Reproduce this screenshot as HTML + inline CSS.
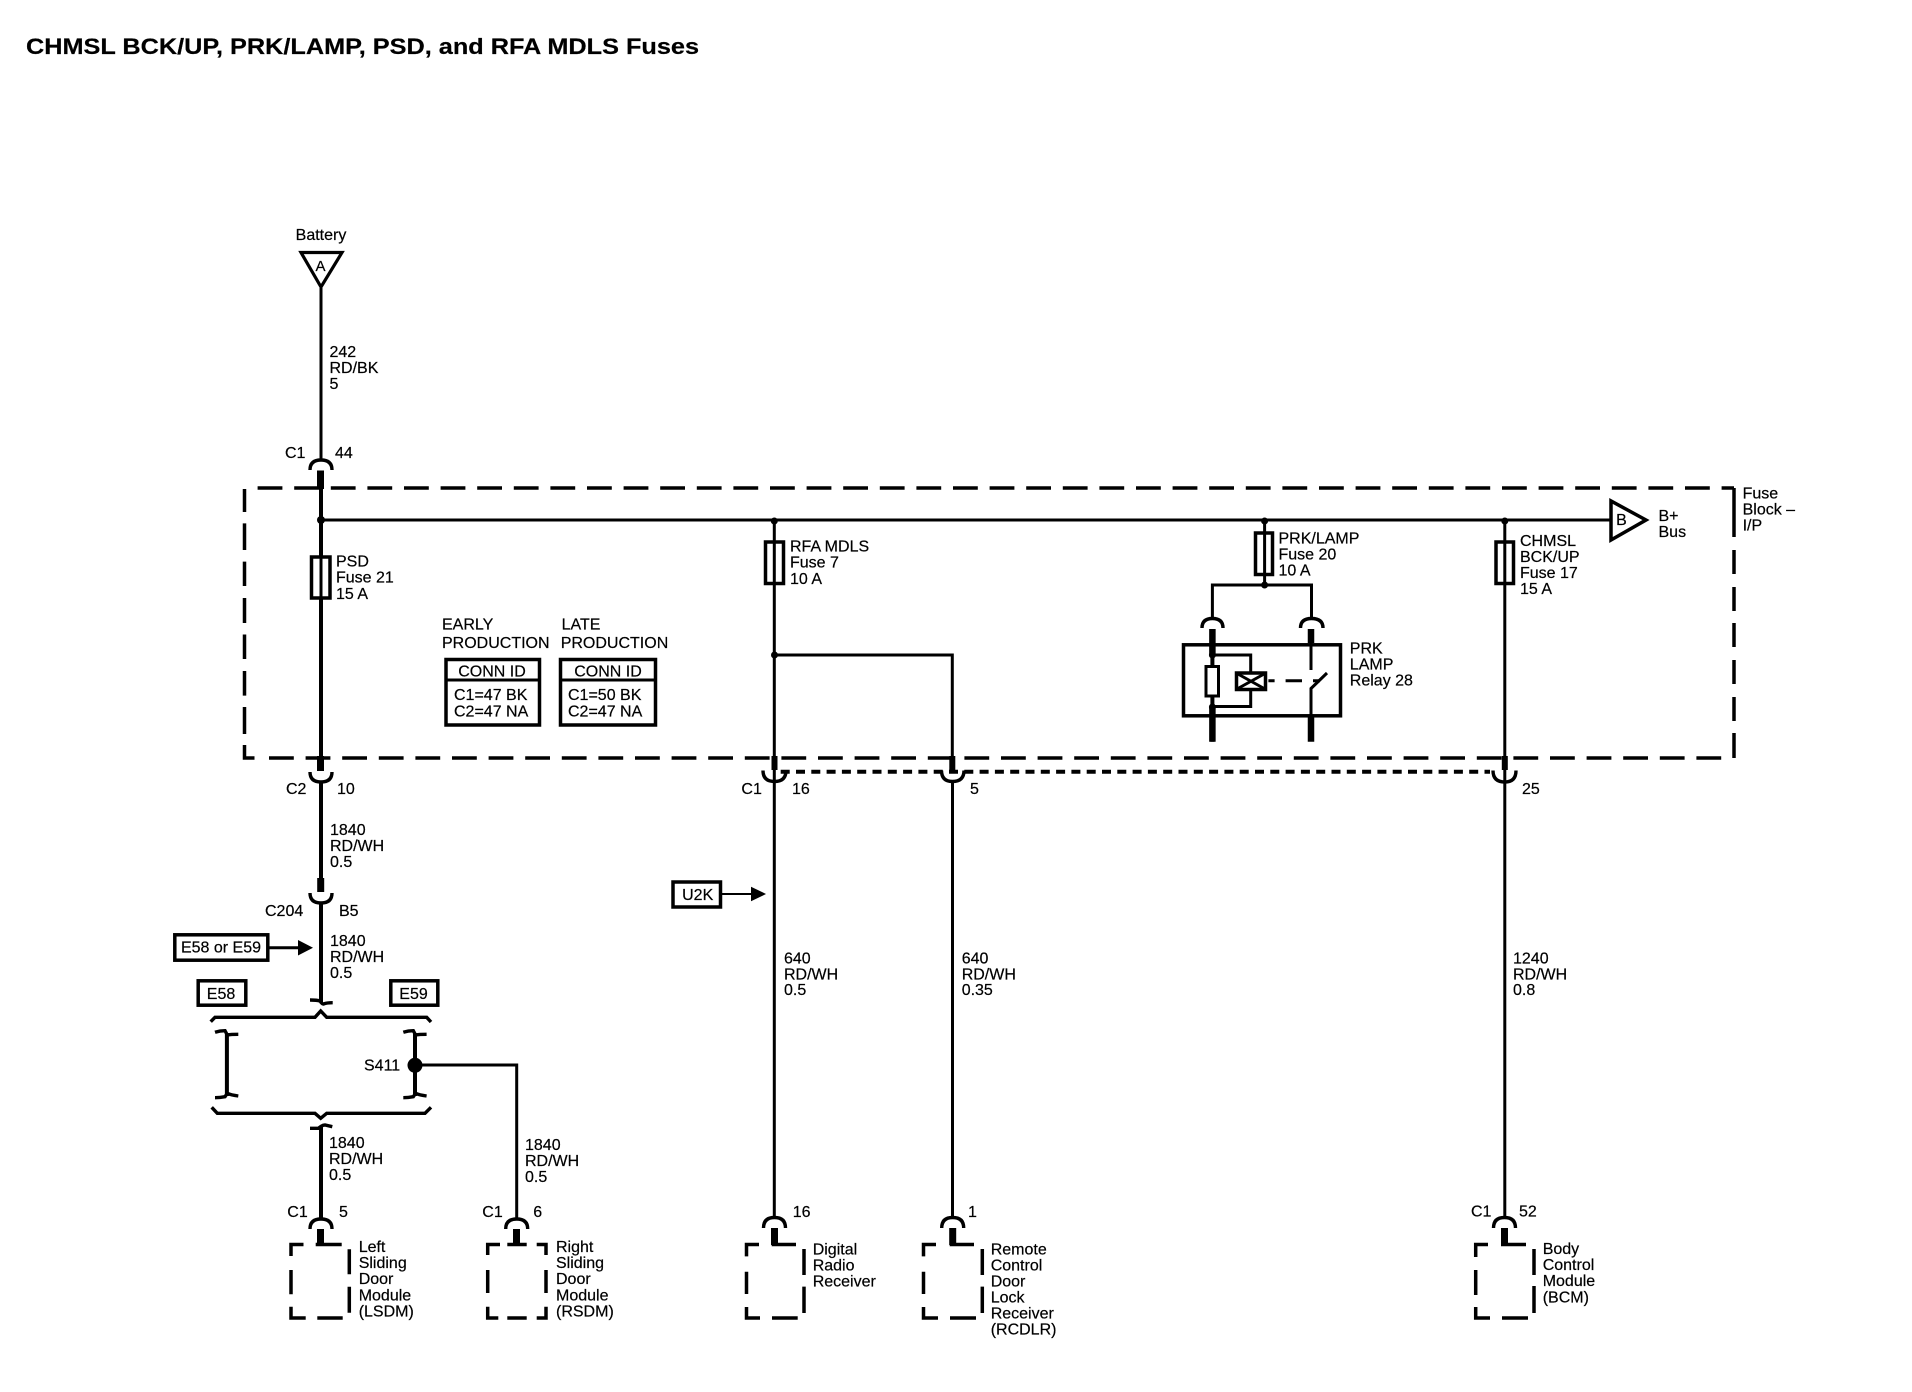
<!DOCTYPE html>
<html><head><meta charset="utf-8"><style>
html,body{margin:0;padding:0;background:#fff}
svg{display:block}
text{font-family:"Liberation Sans",sans-serif;font-size:16px;fill:#000;stroke:#000;stroke-width:.2}
.w{fill:none;stroke:#000;stroke-width:3}
.t{fill:none;stroke:#000;stroke-width:4}
.k{fill:none;stroke:#000;stroke-width:7}
.s{fill:none;stroke:#000;stroke-width:6}
.d{fill:none;stroke:#000;stroke-width:3.5}
.c{fill:none;stroke:#000;stroke-width:3.4}
</style></head><body>
<svg width="1912" height="1392" viewBox="0 0 1912 1392" xmlns="http://www.w3.org/2000/svg">
<rect width="1912" height="1392" fill="#fff"/>
<text x="26" y="54" style="font-size:22px;font-weight:bold" textLength="673" lengthAdjust="spacingAndGlyphs">CHMSL BCK/UP, PRK/LAMP, PSD, and RFA MDLS Fuses</text>

<!-- dashed fuse block -->
<path class="d" d="M257.6 488H1734" stroke-dasharray="24.8 11.8"/>
<path class="d" d="M244.5 489V512M244.5 523.4V550M244.5 561.6V586M244.5 598V623M244.5 634.5V659M244.5 671V695.6M244.5 707V734M244.5 745V758H254.5"/>
<path class="d" d="M269 758H1722" stroke-dasharray="24.8 11.8"/>
<path class="d" d="M1734 488V537M1734 550V574M1734 587V611M1734 623V647M1734 660V684M1734 697V721M1734 733V758"/>
<path d="M780.7 771.8H1490" fill="none" stroke="#000" stroke-width="4" stroke-dasharray="9 6.3"/>

<!-- battery -->
<text x="321" y="240" text-anchor="middle">Battery</text>
<path d="M301 252.5H342L321 287Z" fill="#fff" stroke="#000" stroke-width="3.2"/>
<text x="320.5" y="271" text-anchor="middle" style="font-size:15px">A</text>
<path class="w" d="M321 288V460"/>
<text x="329.5" y="357">242</text><text x="329.5" y="373">RD/BK</text><text x="329.5" y="389">5</text>
<text x="285" y="458">C1</text><text x="335" y="458">44</text>
<path class="c" d="M310 470Q310 460 321 460Q332 460 332 470"/>
<path class="k" d="M320.5 470.5V489"/>
<path class="t" d="M321 488V757"/>
<path class="k" d="M320.5 756V771"/>
<path class="c" d="M310 772Q310 782 321 782Q332 782 332 772"/>
<text x="286" y="794">C2</text><text x="337" y="794">10</text>
<path class="t" d="M321 781V880"/>
<text x="330" y="835">1840</text><text x="330" y="851">RD/WH</text><text x="330" y="867">0.5</text>
<path class="k" d="M320.7 878V892"/>
<path class="c" d="M310 893Q310 903 321 903Q332 903 332 893"/>
<text x="265" y="916">C204</text><text x="339" y="916">B5</text>
<path class="t" d="M321 902V1002"/>
<text x="330" y="946">1840</text><text x="330" y="962">RD/WH</text><text x="330" y="978">0.5</text>

<!-- option boxes -->
<rect x="174.8" y="934.8" width="93" height="25.4" fill="#fff" stroke="#000" stroke-width="3.5"/>
<text x="181" y="952.5" textLength="80">E58 or E59</text>
<path class="w" d="M269 947.7H299"/>
<path d="M298 940V955.5L313 947.7Z" fill="#000"/>
<rect x="198.2" y="980.8" width="47.6" height="24.4" fill="#fff" stroke="#000" stroke-width="3.5"/>
<text x="221" y="999" text-anchor="middle">E58</text>
<rect x="390.8" y="980.8" width="47" height="24.4" fill="#fff" stroke="#000" stroke-width="3.5"/>
<text x="413.5" y="999" text-anchor="middle">E59</text>

<!-- braces -->
<path class="c" d="M310 1000Q317 1000 320 1001Q322 1004 323.5 1004Q327 1002.7 332.7 1002.7"/>
<path class="c" d="M210.7 1021.7L215 1017.3H315L320.7 1011L326.7 1017.3H426.7L431 1022"/>
<path class="t" d="M226.9 1033V1096"/>
<path class="c" d="M215 1032.3Q220 1030.7 225 1030.7L227.3 1035Q231 1034.3 238.3 1034.3M215 1097.7Q220 1097.7 225 1096.7L227.3 1093.3Q231 1095 238.3 1096"/>
<path class="t" d="M415 1033V1096"/>
<path class="c" d="M403.3 1032.3Q408.3 1030.7 413.3 1030.7L415.6 1035Q419.3 1034.3 426.6 1034.3M403.3 1097.7Q408.3 1097.7 413.3 1096.7L415.6 1093.3Q419.3 1095 426.6 1096"/>
<circle cx="415" cy="1065.3" r="7.5" fill="#000"/>
<text x="364" y="1070.5">S411</text>
<path class="w" d="M415 1065H516.7V1219"/>
<path class="c" d="M211.7 1107.3L217.3 1113.3H315L320.7 1118.3L326.7 1113.3H425L431 1107.3"/>
<path class="c" d="M310 1128.3H318.3Q320 1127 321.7 1126Q323 1125 325 1125L332.3 1126.7"/>
<path class="t" d="M321 1126V1220"/>
<text x="329" y="1148">1840</text><text x="329" y="1164">RD/WH</text><text x="329" y="1180">0.5</text>
<text x="525" y="1150">1840</text><text x="525" y="1166">RD/WH</text><text x="525" y="1182">0.5</text>

<!-- LSDM -->
<text x="287.3" y="1217">C1</text><text x="339" y="1217">5</text>
<path class="c" d="M310 1229Q310 1219 321 1219Q332 1219 332 1229"/>
<path class="k" d="M320.5 1229V1245"/>
<path class="d" d="M303.5 1244.5H291V1256M291 1270V1294.3M291 1306.7V1318H305.7M317.3 1318H342.7M315.7 1244.5H341.7M349.3 1249.3V1274.3M349.3 1286.7V1312.7"/>
<text x="358.7" y="1252">Left</text><text x="358.7" y="1268">Sliding</text><text x="358.7" y="1284">Door</text><text x="358.7" y="1300.5">Module</text><text x="358.7" y="1316.5">(LSDM)</text>

<!-- RSDM -->
<text x="482.3" y="1217">C1</text><text x="533.3" y="1217">6</text>
<path class="c" d="M505.7 1229Q505.7 1219 516.7 1219Q527.7 1219 527.7 1229"/>
<path class="k" d="M516.5 1229V1245"/>
<path class="d" d="M500 1244.5H487.7V1255M487.7 1270V1293M487.7 1306.7V1318H498.3M507.3 1318H526.7M507.3 1244.5H526.7M536.7 1244.5H546V1255M546 1270V1293M546 1306.7V1318H536.7"/>
<text x="556" y="1252">Right</text><text x="556" y="1268">Sliding</text><text x="556" y="1284">Door</text><text x="556" y="1300.5">Module</text><text x="556" y="1316.5">(RSDM)</text>

<!-- bus -->
<path class="w" d="M321 520H1612"/>
<circle cx="321" cy="520" r="4" fill="#000"/>
<path d="M1611 501V540L1646 520Z" fill="#fff" stroke="#000" stroke-width="3.5"/>
<text x="1621.5" y="525" text-anchor="middle">B</text>
<text x="1658.5" y="521">B+</text><text x="1658.5" y="537">Bus</text>
<text x="1742.6" y="498.5">Fuse</text><text x="1742.6" y="514.5">Block –</text><text x="1742.6" y="530.5">I/P</text>

<!-- PSD fuse -->
<rect x="311.5" y="557" width="18.5" height="41" fill="#fff" stroke="#000" stroke-width="3.5"/>
<path class="w" d="M321 556V599"/>
<text x="336" y="566.5">PSD</text><text x="336" y="582.7">Fuse 21</text><text x="336" y="599">15 A</text>

<!-- conn tables -->
<text x="442" y="629.5">EARLY</text><text x="442" y="648">PRODUCTION</text>
<text x="561.6" y="629.5">LATE</text><text x="560.7" y="648">PRODUCTION</text>
<rect x="446" y="659.5" width="93.5" height="65.5" fill="#fff" stroke="#000" stroke-width="3.5"/>
<path class="w" d="M446 680H539.5"/>
<text x="492" y="676.7" text-anchor="middle">CONN ID</text>
<text x="454" y="700">C1=47 BK</text><text x="454" y="716.7">C2=47 NA</text>
<rect x="560.5" y="659.5" width="95" height="65.5" fill="#fff" stroke="#000" stroke-width="3.5"/>
<path class="w" d="M560.5 680H655.5"/>
<text x="608" y="676.7" text-anchor="middle">CONN ID</text>
<text x="568" y="700">C1=50 BK</text><text x="568" y="716.7">C2=47 NA</text>

<!-- RFA -->
<circle cx="774.3" cy="521" r="3.5" fill="#000"/>
<rect x="765.5" y="542" width="18" height="41.5" fill="#fff" stroke="#000" stroke-width="3.5"/>
<path class="w" d="M774.3 520V1217"/>
<text x="790" y="551.7">RFA MDLS</text><text x="790" y="567.7">Fuse 7</text><text x="790" y="584">10 A</text>
<circle cx="774.5" cy="655" r="3.5" fill="#000"/>
<path class="w" d="M774.5 655H952.3V757"/>
<path class="s" d="M774.5 756V770M952.3 756V770"/>
<path class="c" d="M763 770.5Q763 781.5 774.5 781.5Q786 781.5 786 770.5M941.5 770.5Q941.5 781.5 952.5 781.5Q964 781.5 964 770.5"/>
<text x="741.4" y="794">C1</text><text x="792" y="794">16</text><text x="970" y="794">5</text>
<path class="w" d="M952.5 781V1217"/>
<text x="784" y="963.5">640</text><text x="784" y="979.5">RD/WH</text><text x="784" y="995">0.5</text>
<text x="961.7" y="963.5">640</text><text x="961.7" y="979.5">RD/WH</text><text x="961.7" y="995">0.35</text>

<!-- U2K -->
<rect x="673" y="882" width="47.5" height="25" fill="#fff" stroke="#000" stroke-width="3.5"/>
<text x="697.7" y="900" text-anchor="middle">U2K</text>
<path d="M722 894H752" stroke="#000" stroke-width="2" fill="none"/>
<path d="M751 886.7V901.3L766 894Z" fill="#000"/>

<!-- Digital radio -->
<text x="792.7" y="1217">16</text>
<path class="c" d="M763.5 1228Q763.5 1217.5 774.5 1217.5Q785.5 1217.5 785.5 1228"/>
<path class="k" d="M774.5 1228V1245"/>
<path class="d" d="M759 1244.5H746.5V1256.4M746.5 1271.7V1294M746.5 1307V1318H760M772 1318H797.7M771.7 1244.5H796M804 1249V1275M804 1286.6V1313"/>
<text x="812.7" y="1254.5">Digital</text><text x="812.7" y="1270.5">Radio</text><text x="812.7" y="1286.5">Receiver</text>

<!-- RCDLR -->
<text x="968" y="1217">1</text>
<path class="c" d="M941.7 1228Q941.7 1217.5 952.7 1217.5Q963.7 1217.5 963.7 1228"/>
<path class="k" d="M952.7 1228V1245"/>
<path class="d" d="M936 1244.5H923.5V1256.4M923.5 1271.7V1294M923.5 1307V1318H938M950 1318H976M949.7 1244.5H974M982.3 1249V1275M982.3 1286.6V1313"/>
<text x="990.7" y="1254.5">Remote</text><text x="990.7" y="1270.5">Control</text><text x="990.7" y="1286.5">Door</text><text x="990.7" y="1302.5">Lock</text><text x="990.7" y="1318.5">Receiver</text><text x="990.7" y="1334.5">(RCDLR)</text>

<!-- PRK LAMP -->
<circle cx="1264.6" cy="521" r="3.5" fill="#000"/>
<rect x="1255.5" y="533" width="17" height="41.5" fill="#fff" stroke="#000" stroke-width="3.5"/>
<path class="w" d="M1264.6 520V585"/>
<text x="1278.5" y="543.3">PRK/LAMP</text><text x="1278.5" y="559.3">Fuse 20</text><text x="1278.5" y="575.3">10 A</text>
<circle cx="1264.6" cy="585" r="3.5" fill="#000"/>
<path class="w" d="M1212.4 618V585H1311.5V618"/>
<path class="c" d="M1202 628Q1202 618.5 1212.4 618.5Q1223 618.5 1223 628M1300.5 628Q1300.5 618.5 1311.5 618.5Q1323 618.5 1323 628"/>
<rect x="1183.5" y="644.8" width="157" height="71" fill="none" stroke="#000" stroke-width="3.5"/>
<path d="M1212.4 629V741.7" stroke="#000" stroke-width="4" fill="none"/>
<path d="M1212.4 629V655M1212.4 707V741.7M1311 629V643M1311 717V741.7" stroke="#000" stroke-width="6.5" fill="none"/>
<path class="w" d="M1311 643V670M1311 688V717M1310.5 689L1327 673"/>
<circle cx="1212.4" cy="655" r="3.5" fill="#000"/>
<circle cx="1212.4" cy="707" r="3.5" fill="#000"/>
<rect x="1206" y="666.5" width="12.5" height="29.5" fill="#fff" stroke="#000" stroke-width="3"/>
<path class="w" d="M1212.4 655H1250.7V672M1250.7 690V706.5H1212.4"/>
<rect x="1236.5" y="673" width="29" height="16.5" fill="#fff" stroke="#000" stroke-width="3.5"/>
<path class="w" d="M1237 673.5L1265 689M1265 673.5L1237 689"/>
<path class="w" d="M1268.4 680.7H1274.6M1285.6 680.7H1302M1313 680.7H1320"/>
<text x="1349.8" y="653.5">PRK</text><text x="1349.8" y="669.5">LAMP</text><text x="1349.8" y="685.5">Relay 28</text>

<!-- CHMSL -->
<circle cx="1504.8" cy="521" r="3.5" fill="#000"/>
<rect x="1496" y="542" width="17.5" height="41.5" fill="#fff" stroke="#000" stroke-width="3.5"/>
<path class="w" d="M1504.8 520V1217"/>
<text x="1520" y="546">CHMSL</text><text x="1520" y="562">BCK/UP</text><text x="1520" y="578">Fuse 17</text><text x="1520" y="594">15 A</text>
<path class="s" d="M1504.8 756V770"/>
<path class="c" d="M1493 770.5Q1493 782 1504.8 782Q1516 782 1516 770.5"/>
<text x="1522" y="794">25</text>
<text x="1513" y="963.5">1240</text><text x="1513" y="979.5">RD/WH</text><text x="1513" y="995">0.8</text>

<!-- BCM -->
<text x="1471" y="1216.5">C1</text><text x="1519" y="1216.5">52</text>
<path class="c" d="M1493.5 1228Q1493.5 1217.5 1504.5 1217.5Q1515.5 1217.5 1515.5 1228"/>
<path class="k" d="M1504.5 1228V1245"/>
<path class="d" d="M1488 1244.5H1475.7V1257M1475.7 1270V1295M1475.7 1307V1318H1490M1502 1318H1528M1501 1244.5H1526M1534 1249V1275M1534 1286V1313"/>
<text x="1542.7" y="1254">Body</text><text x="1542.7" y="1270">Control</text><text x="1542.7" y="1286">Module</text><text x="1542.7" y="1302.5">(BCM)</text>
</svg>
</body></html>
